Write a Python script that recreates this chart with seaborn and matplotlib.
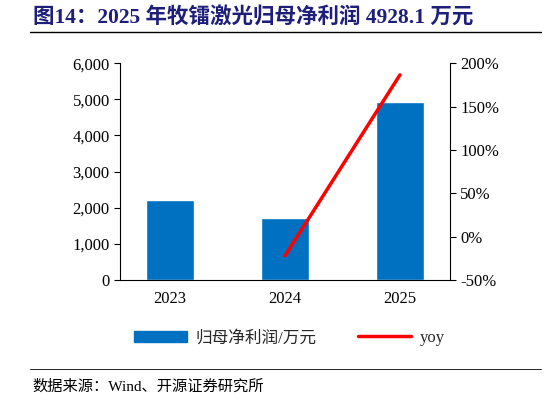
import matplotlib
matplotlib.use("Agg")
import matplotlib.pyplot as plt
import seaborn as sns
import pandas as pd
from matplotlib.lines import Line2D
from matplotlib.ticker import FuncFormatter

years = ["2023", "2024", "2025"]
profit = [2210, 1720, 4928.1]
yoy = [None, -22.2, 186.5]

sns.set_style("white")
plt.rcParams['font.family'] = ['Liberation Serif', 'Noto Sans CJK SC', 'DejaVu Sans']

fig = plt.figure(figsize=(5.46, 4.05), dpi=100)
ax = fig.add_axes([0.22, 0.309, 0.604, 0.535])
df = pd.DataFrame({"year": years, "profit": profit})
sns.barplot(data=df, x="year", y="profit", color="#0070C0", saturation=1, width=0.42, ax=ax)
ax.set_xlim(-0.435, 2.435)
ax.set_ylim(0, 6000)
ax.set_yticks(range(0, 6001, 1000))
ax.yaxis.set_major_formatter(FuncFormatter(lambda v, p: f"{int(v):,}"))
ax.set_xlabel(""); ax.set_ylabel("")
for s in ["top", "right"]:
    ax.spines[s].set_visible(False)
for s in ["left", "bottom"]:
    ax.spines[s].set_color("black"); ax.spines[s].set_linewidth(0.8)
ax.tick_params(axis="both", labelsize=12, colors="black", direction="out", length=4)
ax.tick_params(axis="x", length=0, pad=8)

ax2 = ax.twinx()
ax2.plot([1, 2], yoy[1:], color="#FF0000", lw=2.5)
ax2.set_ylim(-50, 200)
ax2.set_yticks(range(-50, 201, 50))
ax2.yaxis.set_major_formatter(FuncFormatter(lambda v, p: f"{int(v)}%"))
for s in ["top", "left", "bottom"]:
    ax2.spines[s].set_visible(False)
ax2.spines["right"].set_color("black"); ax2.spines["right"].set_linewidth(0.8)
ax2.tick_params(axis="y", labelsize=12, colors="black", direction="out", length=4)

handles = [plt.Rectangle((0, 0), 1, 1, color="#0070C0"), Line2D([], [], color="#FF0000", lw=2.5)]
fig.legend(handles, ["归母净利润/万元", "yoy"], loc="center", bbox_to_anchor=(0.53, 0.165),
           ncol=2, frameon=False, handlelength=3.2, handletextpad=0.5, columnspacing=2.5,
           prop={'family': ['Liberation Serif', 'Noto Sans CJK SC'], 'size': 12})

fig.text(0.06, 0.955, "图14：2025 年牧镭激光归母净利润 4928.1 万元", fontsize=15.5, fontweight="bold",
         color="#1F1F7A", va="center", family=['Liberation Serif', 'Noto Sans CJK SC'])
fig.add_artist(Line2D([0.055, 0.99], [0.92, 0.92], color="black", lw=1))
fig.add_artist(Line2D([0.055, 0.99], [0.09, 0.09], color="black", lw=0.6))
fig.text(0.06, 0.045, "数据来源：Wind、开源证券研究所", fontsize=11, color="black", va="center",
         family=['Liberation Serif', 'Noto Sans CJK SC'])
fig.savefig("out.png", dpi=100)
